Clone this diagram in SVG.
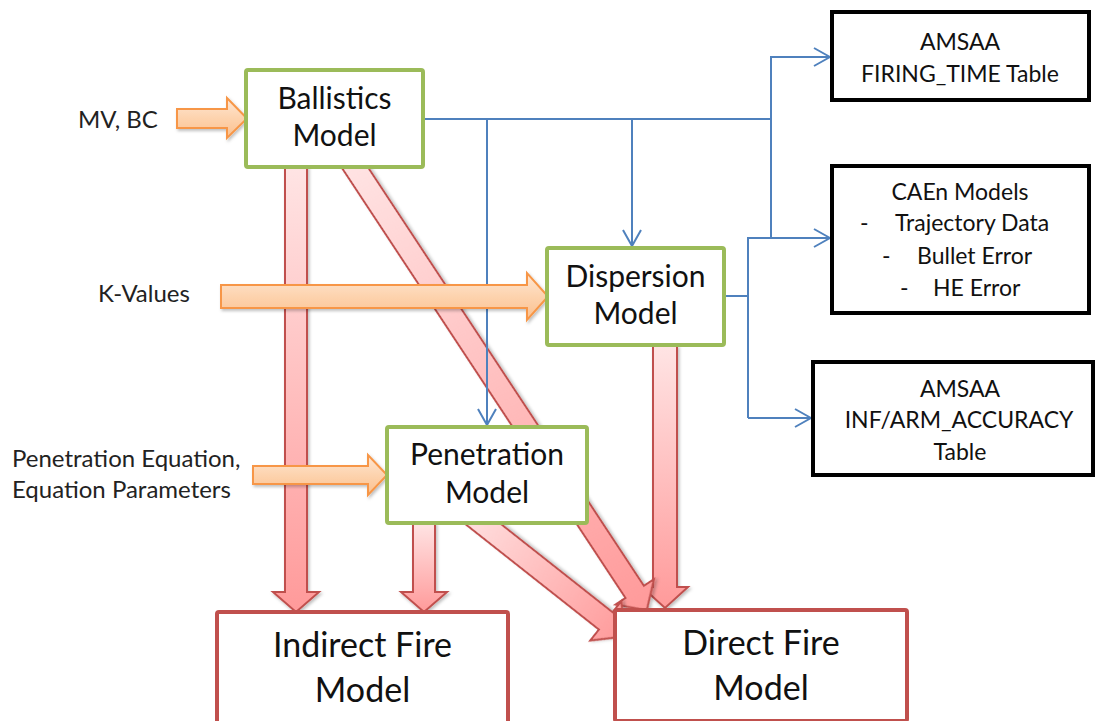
<svg xmlns="http://www.w3.org/2000/svg" width="1097" height="721" viewBox="0 0 1097 721">
  <style>
    .lbl { font-family: Lato, "Open Sans", sans-serif; fill: #111; }
    .big { font-size: 34px; text-anchor: middle; }
    .mid { font-size: 30px; text-anchor: middle; }
    .sm { font-size: 23px; }
    .ctr { text-anchor: middle; }
    .side { font-size: 24px; fill: #222; }
    .green { fill: #fff; stroke: #9BBB59; stroke-width: 4; }
    .redbox { fill: #fff; stroke: #C0504D; stroke-width: 4; }
    .blk { fill: #fff; stroke: #000; stroke-width: 4; }
    .flow { fill: url(#redGrad); stroke: #C0504D; stroke-width: 2; stroke-linejoin: miter; filter: url(#shadow); }
    .input { fill: url(#orangeGrad); stroke: #F79646; stroke-width: 2; filter: url(#shadow); }
    .wire { fill: none; stroke: #4F81BD; stroke-width: 2; }
  </style>
  <defs>
    <linearGradient id="redGrad" x1="0" y1="0" x2="0" y2="1">
      <stop offset="0" stop-color="#FFE4E4"/>
      <stop offset="1" stop-color="#FF9A9A"/>
    </linearGradient>
    <linearGradient id="orangeGrad" x1="0" y1="0" x2="0" y2="1">
      <stop offset="0" stop-color="#FEE7D4"/>
      <stop offset="0.5" stop-color="#FDD3AE"/>
      <stop offset="1" stop-color="#FBC08E"/>
    </linearGradient>
    <filter id="shadow" x="-20%" y="-20%" width="140%" height="140%">
      <feDropShadow dx="1.5" dy="2" stdDeviation="1.5" flood-color="#000" flood-opacity="0.25"/>
    </filter>
    <marker id="open" viewBox="0 0 18 20" refX="17" refY="10" markerWidth="18" markerHeight="20" markerUnits="userSpaceOnUse" orient="auto">
      <path d="M1,1 L17,10 L1,19" fill="none" stroke="#4F81BD" stroke-width="2"/>
    </marker>
  </defs>

  <!-- block arrows between models (drawn pointing down, then placed) -->
  <g id="flows">
    <path class="flow" transform="translate(296,167)" d="M-11,0 L11,0 L11,425 L23,425 L0,445 L-23,425 L-11,425 Z"/>
    <path class="flow" transform="translate(424,523)" d="M-11,0 L11,0 L11,69 L23,69 L0,89 L-23,69 L-11,69 Z"/>
    <path class="flow" transform="translate(665,346)" d="M-12,0 L12,0 L12,241 L23,241 L0,262 L-23,241 L-12,241 Z"/>
    <path class="flow" transform="translate(349,158.6) rotate(-33.4)" d="M-11,0 L11,0 L11,519 L23,519 L0,541 L-23,519 L-11,519 Z"/>
    <path class="flow" transform="translate(459,505) rotate(-51.7)" d="M-11,0 L11,0 L11,187 L25,187 L0,212 L-25,187 L-11,187 Z"/>
  </g>

  <!-- data connectors -->
  <g id="connectors">
    <path class="wire" d="M423,119 H771"/>
    <path class="wire" d="M487,119 V425" marker-end="url(#open)"/>
    <path class="wire" d="M632,119 V246" marker-end="url(#open)"/>
    <path class="wire" d="M771,238 V57 H830" marker-end="url(#open)"/>
    <path class="wire" d="M724,296 H748"/>
    <path class="wire" d="M748,418 V238 H830" marker-end="url(#open)"/>
    <path class="wire" d="M748,418 H811" marker-end="url(#open)"/>
  </g>

  <!-- input arrows -->
  <g id="inputs">
    <path class="input" d="M177,109 H227 V98 L247,118.5 L227,138 V128 H177 Z"/>
    <path class="input" d="M221,285 H527 V273 L548,296.5 L527,320 V308 H221 Z"/>
    <path class="input" d="M253,466 H368 V455 L387,475 L368,495 V484 H253 Z"/>
  </g>

  <g id="label-mvbc"><text class="lbl side" x="78" y="128">MV, BC</text></g>
  <g id="label-kvalues"><text class="lbl side" x="98" y="302">K-Values</text></g>
  <g id="label-penetration-eq">
    <text class="lbl side" x="12" y="467">Penetration Equation,</text>
    <text class="lbl side" x="12" y="498">Equation Parameters</text>
  </g>

  <g id="ballistics">
    <rect class="green" x="246" y="70" width="177" height="97" rx="2"/>
    <text class="lbl mid" x="334.5" y="109">Ballistics</text>
    <text class="lbl mid" x="334.5" y="146">Model</text>
  </g>

  <g id="dispersion">
    <rect class="green" x="547" y="248" width="177" height="97" rx="2"/>
    <text class="lbl mid" x="635.5" y="287">Dispersion</text>
    <text class="lbl mid" x="635.5" y="324">Model</text>
  </g>

  <g id="penetration">
    <rect class="green" x="387" y="427" width="200" height="96" rx="2"/>
    <text class="lbl mid" x="487" y="465">Penetration</text>
    <text class="lbl mid" x="487" y="503">Model</text>
  </g>

  <g id="indirect-fire">
    <rect class="redbox" x="217" y="612" width="291" height="112" rx="2"/>
    <text class="lbl big" x="362.5" y="657">Indirect Fire</text>
    <text class="lbl big" x="362.5" y="702">Model</text>
  </g>

  <g id="direct-fire">
    <rect class="redbox" x="615" y="610" width="292" height="111" rx="2"/>
    <text class="lbl big" x="761" y="655">Direct Fire</text>
    <text class="lbl big" x="761" y="700">Model</text>
  </g>

  <g id="firing-time">
    <rect class="blk" x="832" y="12" width="257" height="88"/>
    <text class="lbl sm ctr" x="960" y="50">AMSAA</text>
    <text class="lbl sm ctr" x="960" y="82">FIRING_TIME Table</text>
  </g>

  <g id="caen">
    <rect class="blk" x="832" y="166" width="257" height="147"/>
    <text class="lbl sm ctr" x="960" y="200">CAEn Models</text>
    <text class="lbl sm" x="860" y="231">-</text>
    <text class="lbl sm" x="895" y="231">Trajectory Data</text>
    <text class="lbl sm" x="882" y="264">-</text>
    <text class="lbl sm" x="917" y="264">Bullet Error</text>
    <text class="lbl sm" x="900" y="296">-</text>
    <text class="lbl sm" x="933" y="296">HE Error</text>
  </g>

  <g id="accuracy">
    <rect class="blk" x="813" y="362" width="280" height="113"/>
    <text class="lbl sm ctr" x="960" y="397">AMSAA</text>
    <text class="lbl sm ctr" x="959" y="428">INF/ARM_ACCURACY</text>
    <text class="lbl sm ctr" x="960" y="460">Table</text>
  </g>
</svg>
